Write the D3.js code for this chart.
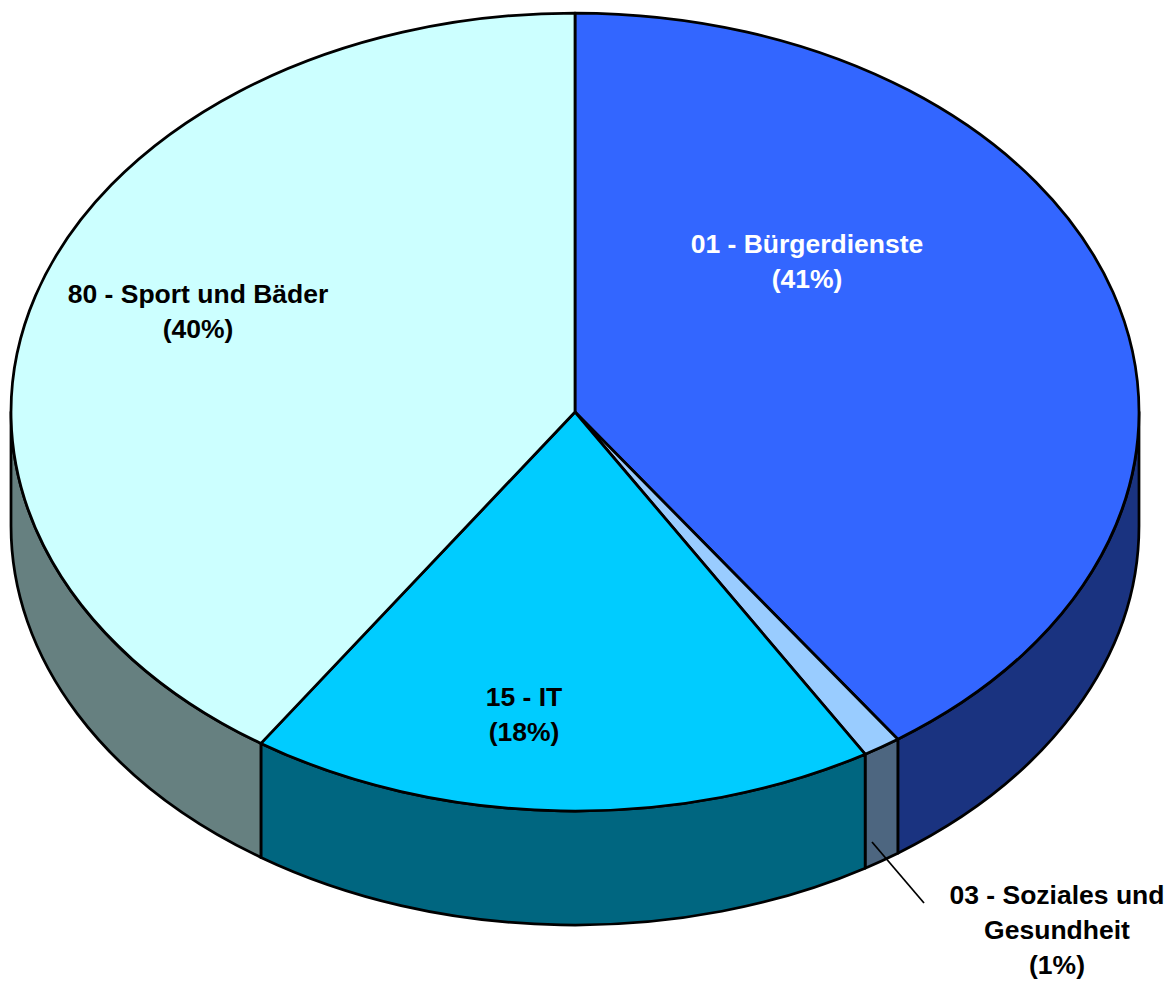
<!DOCTYPE html>
<html>
<head>
<meta charset="utf-8">
<script src="https://cdn.jsdelivr.net/npm/d3@7"></script>
<style>
    html, body { margin: 0; padding: 0; background: #fff; }
    svg { display: block; }
    text { font-family: "Liberation Sans", Arial, sans-serif; font-weight: bold; font-size: 26.5px; }
</style>
</head>
<body>
<div id="chart"></div>
<script>
// slices clockwise from 12 o'clock
const categories = ["01 - Bürgerdienste", "03 - Soziales und Gesundheit", "15 - IT", "80 - Sport und Bäder"];
const values = [40.3, 1.1, 18.0, 40.6];
const percentLabels = ["(41%)", "(1%)", "(18%)", "(40%)"];
const topColors = ["#3366ff", "#99ccff", "#00ccff", "#ccffff"];
const sideColors = ["#1a3380", "#4d6680", "#006680", "#668080"];

const width = 1174;
const height = 983;
const center = { x: 575, y: 412 };
const rx = 564;
const ry = 399;
const depth = 114;

// where each label block is centred, and how the text wraps
const labelLayout = [
    { x: 807, y: 244, fill: "#fff", lines: [categories[0], percentLabels[0]] },
    { x: 1057, y: 895, fill: "#000", lines: ["03 - Soziales und", "Gesundheit", percentLabels[1]] },
    { x: 524, y: 697, fill: "#000", lines: [categories[2], percentLabels[2]] },
    { x: 198, y: 294, fill: "#000", lines: [categories[3], percentLabels[3]] }
];
const lineHeight = 35;

const svg = d3.select("#chart")
    .append("svg")
    .attr("width", width)
    .attr("height", height);

const xScale = d3.scaleLinear().domain([-1, 1]).range([center.x - rx, center.x + rx]);
const yScale = d3.scaleLinear().domain([-1, 1]).range([center.y - ry, center.y + ry]);

const pie = d3.pie().sort(null).value(d => d.value);
const slices = pie(categories.map((name, i) => ({ name, value: values[i], i })));

function px(a) { return xScale(Math.sin(a)); }
function py(a, drop = 0) { return yScale(-Math.cos(a)) + drop; }

function arcTo(a0, a1, drop, sweep) {
    const large = Math.abs(a1 - a0) > Math.PI ? 1 : 0;
    return `A${rx},${ry} 0 ${large} ${sweep} ${px(a1)},${py(a1, drop)}`;
}

// side wall only exists on the front half of the ellipse
const frontStart = Math.PI / 2;
const frontEnd = Math.PI * 3 / 2;

const sides = svg.append("g").attr("class", "sides");
slices.forEach(s => {
    const a0 = Math.max(s.startAngle, frontStart);
    const a1 = Math.min(s.endAngle, frontEnd);
    if (a1 <= a0) return;
    const d = `M${px(a0)},${py(a0)}` + arcTo(a0, a1, 0, 1)
        + `L${px(a1)},${py(a1, depth)}` + arcTo(a1, a0, depth, 0) + "Z";
    sides.append("path")
        .attr("d", d)
        .attr("fill", sideColors[s.data.i])
        .attr("stroke", "#000")
        .attr("stroke-width", 2.75)
        .attr("stroke-linejoin", "round");
});

const tops = svg.append("g").attr("class", "tops");
slices.forEach(s => {
    const d = `M${center.x},${center.y}L${px(s.startAngle)},${py(s.startAngle)}`
        + arcTo(s.startAngle, s.endAngle, 0, 1) + "Z";
    tops.append("path")
        .attr("d", d)
        .attr("fill", topColors[s.data.i])
        .attr("stroke", "#000")
        .attr("stroke-width", 2.75)
        .attr("stroke-linejoin", "round");
});

// leader line for the small slice
svg.append("line")
    .attr("x1", 872).attr("y1", 842)
    .attr("x2", 924).attr("y2", 903)
    .attr("stroke", "#000")
    .attr("stroke-width", 1.75);

const labels = svg.append("g").attr("class", "labels");
labelLayout.forEach(l => {
    l.lines.forEach((line, j) => {
        labels.append("text")
            .attr("x", l.x)
            .attr("y", l.y + j * lineHeight)
            .attr("dy", "0.35em")
            .attr("text-anchor", "middle")
            .attr("fill", l.fill)
            .text(line);
    });
});
</script>
</body>
</html>
